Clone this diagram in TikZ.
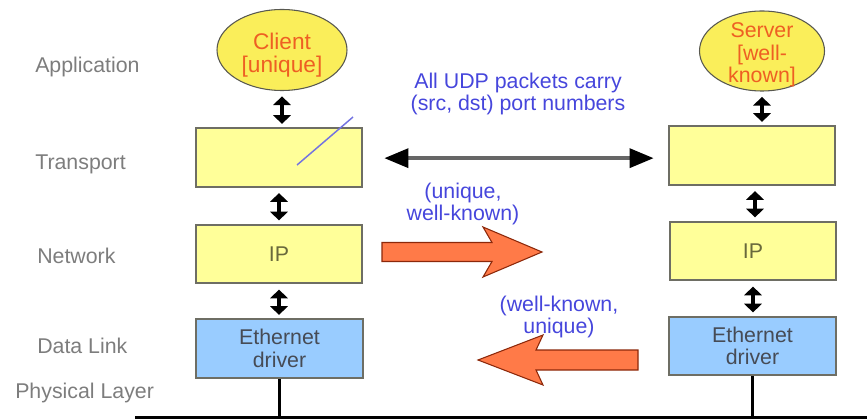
\documentclass[tikz,border=0pt]{standalone}
\usepackage{fontspec}
\setmainfont{Liberation Sans}
\usetikzlibrary{shapes.geometric,arrows.meta}
\definecolor{boxyellow}{RGB}{255,255,153}
\definecolor{ellyellow}{RGB}{250,238,90}
\definecolor{ethblue}{RGB}{153,204,255}
\definecolor{boxborder}{RGB}{110,110,100}
\definecolor{labelgray}{RGB}{125,125,125}
\definecolor{appred}{RGB}{238,95,35}
\definecolor{noteblue}{RGB}{70,70,220}
\definecolor{slashblue}{RGB}{115,115,225}
\definecolor{iptext}{RGB}{105,105,60}
\definecolor{ethtext}{RGB}{70,75,85}
\definecolor{coral}{RGB}{255,122,72}
\definecolor{coralborder}{RGB}{140,40,10}
\begin{document}
\begin{tikzpicture}[x=0.75pt,y=-0.75pt,
  every node/.style={font=\fontsize{16}{17}\selectfont},
  layerlabel/.style={anchor=base west, text=labelgray, inner sep=0pt},
  layerbox/.style={draw=boxborder, line width=1.4pt, fill=boxyellow,
    minimum width=125pt, minimum height=44pt, inner sep=0pt, text=iptext},
  ethbox/.style={layerbox, fill=ethblue, text=ethtext, align=center},
  appell/.style={ellipse, draw=boxborder!80!black, line width=0.8pt, fill=ellyellow,
    text=appred, align=center, inner sep=0pt, font=\fontsize{17}{17.5}\selectfont},
  updown/.style={line width=2.3pt, {Triangle[width=13pt,length=6.5pt]}-{Triangle[width=13pt,length=6.5pt]},
    shorten <=4pt, shorten >=2.5pt},
  peer/.style={draw=black!60, line width=3pt,
    {Triangle[width=14pt,length=18pt,color=black]}-{Triangle[width=14pt,length=18pt,color=black]}},
  note/.style={text=noteblue, align=center, font=\fontsize{16}{16.5}\selectfont},
  blockarrow/.style={fill=coral, draw=coralborder, line width=0.8pt, line join=miter},
  wire/.style={line width=2.2pt}]
\useasboundingbox (0,0) rectangle (867,420);

% layer labels
\node[layerlabel] (lApp) at (35,73) {Application};
\node[layerlabel] (lTrans) at (35,170) {Transport};
\node[layerlabel] (lNet) at (37,263) {Network};
\node[layerlabel] (lLink) at (37,353) {Data Link};
\node[layerlabel] (lPhys) at (15,398) {Physical Layer};

% client stack
\node[appell, minimum width=97.5pt, minimum height=60.75pt] (cApp) at (282,50) {\rule{0pt}{20pt}Client\\{}[unique]};
\node[layerbox] (cTr) at (279,157.5) {};
\node[layerbox] (cIP) at (279,254) {IP};
\node[ethbox] (cEth) at (279.5,348.5) {Ethernet\\driver};

% server stack
\node[appell, minimum width=93.75pt, minimum height=60pt, inner ysep=-7pt,
  font=\fontsize{16}{17}\selectfont] (sApp) at (762,51) {\rule{0pt}{17pt}Server\\{}[well-\\known]};
\node[layerbox] (sTr) at (752,155.5) {};
\node[layerbox] (sIP) at (753,251) {IP};
\node[ethbox] (sEth) at (752.5,346) {Ethernet\\driver};

% vertical double arrows
\draw[updown] (cApp.south) -- (cApp.south |- cTr.north);
\draw[updown] (cTr.south) -- (cTr.south |- cIP.north);
\draw[updown] (cIP.south) -- (cIP.south |- cEth.north);
\draw[updown] (sApp.south) -- (sApp.south |- sTr.north);
\draw[updown] (sTr.south) ++(3,0) coordinate (sTrS) -- (sTrS |- sIP.north);
\draw[updown] (sIP.south) -- (sIP.south |- sEth.north);

% slash in client transport box
\coordinate (slashA) at (297,165);
\coordinate (slashB) at (353,117);
\draw[slashblue, line width=1.1pt] (slashA) -- (slashB);

% peer arrow between transport boxes
\draw[peer, shorten <=15.75pt, shorten >=10.5pt] ([yshift=-0.5pt]cTr.east) -- ([yshift=-0.5pt]cTr.east -| sTr.west);
\node[note] (udpnote) at (518,94) {All UDP packets carry\\(src, dst) port numbers};

% block arrows
\draw[blockarrow, shift={(382,252)}] (0,-9.5) -- (110,-9.5) -- (101,-25) -- (160,0) -- (101,25) -- (110,9.5) -- (0,9.5) -- cycle;
\node[note] (fwdnote) at (463,204) {(unique,\\well-known)};
\draw[blockarrow, shift={(638,360)}, xscale=-1] (0,-10) -- (102,-10) -- (95,-25) -- (160,0) -- (95,25) -- (102,10) -- (0,10) -- cycle;
\node[note] (revnote) at (559,317) {(well-known,\\unique)};

% physical wire
\coordinate (busL) at (135,417.5);
\coordinate (busR) at (867,417.5);
\draw[wire] (busL) -- (busR);
\draw[line width=1.8pt] (cEth.south) -- (cEth.south |- busL);
\draw[line width=1.8pt] (sEth.south) -- (sEth.south |- busL);
\end{tikzpicture}
\end{document}
